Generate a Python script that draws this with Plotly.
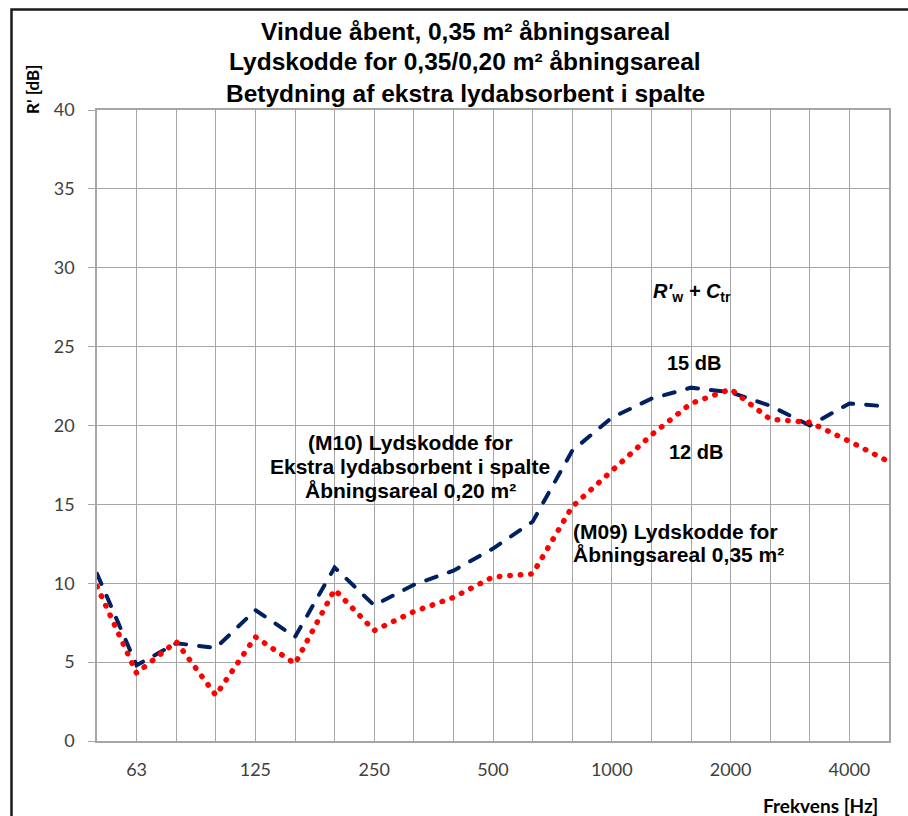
import plotly.graph_objects as go

categories = ["50", "63", "80", "100", "125", "160", "200", "250", "315", "400", "500",
              "630", "800", "1000", "1250", "1600", "2000", "2500", "3150", "4000", "5000"]
shown_ticks = ["63", "125", "250", "500", "1000", "2000", "4000"]
m10_values = [10.6, 4.8, 6.2, 5.9, 8.3, 6.6, 11.0, 8.6, 9.9, 10.8, 12.2, 13.9,
              18.4, 20.5, 21.7, 22.4, 22.1, 21.25, 20.0, 21.4, 21.2]
m09_values = [9.8, 4.3, 6.3, 2.9, 6.6, 4.9, 9.6, 7.0, 8.2, 9.1, 10.4, 10.6,
              14.85, 17.1, 19.4, 21.4, 22.3, 20.4, 20.2, 19.0, 17.7]
y_ticks = [0, 5, 10, 15, 20, 25, 30, 35, 40]

xi = list(range(len(categories)))
label_pos = [categories.index(c) for c in shown_ticks]

ARIAL = "Liberation Sans, Arial, sans-serif"
CAL = "Lato, Carlito, Calibri, sans-serif"
GRID = "#A6A6A6"

fig = go.Figure()
fig.add_trace(go.Scatter(x=xi, y=m10_values, mode="lines",
                         line=dict(color="#002060", width=4, dash="11px,13px"),
                         showlegend=False, hoverinfo="skip"))
fig.add_trace(go.Scatter(x=xi, y=m09_values, mode="lines",
                         line=dict(color="#FF0000", width=5.5, dash="0.5px,10px"),
                         showlegend=False, hoverinfo="skip"))

ann = []
def A(x, y, text, size=21, xref="x", yref="y", xanchor="center", font=ARIAL, angle=0, color="black"):
    ann.append(dict(x=x, y=y, xref=xref, yref=yref, text=text, showarrow=False,
                    xanchor=xanchor, yanchor="middle", textangle=angle,
                    font=dict(family=font, size=size, color=color)))

def px2x(px):
    return (px - 97) / 39.6
def py2y(py):
    return (741 - py) / 15.775
def ppx(px):
    return (px - 97) / 792
def ppy(py):
    return (741 - py) / 631

A(ppx(465), ppy(31), "<b>Vindue åbent, 0,35 m² åbningsareal</b>", size=24.5, xref="paper", yref="paper")
A(ppx(465), ppy(62), "<b>Lydskodde for 0,35/0,20 m² åbningsareal</b>", size=24.5, xref="paper", yref="paper")
A(ppx(465), ppy(93), "<b>Betydning af ekstra lydabsorbent i spalte</b>", size=24.5, xref="paper", yref="paper")

A(px2x(410), py2y(442), "<b>(M10) Lydskodde for</b>")
A(px2x(410), py2y(466), "<b>Ekstra lydabsorbent i spalte</b>")
A(px2x(410), py2y(490), "<b>Åbningsareal 0,20 m²</b>")
A(px2x(571), py2y(531), "<b>(M09) Lydskodde for</b>", xanchor="left")
A(px2x(571), py2y(554), "<b>Åbningsareal 0,35 m²</b>", xanchor="left")
A(px2x(692), py2y(292), "<b><i>R'</i><sub>w</sub><i> + C</i><sub>tr</sub></b>", size=20)
A(px2x(694), py2y(363), "<b>15 dB</b>", size=20)
A(px2x(696), py2y(452), "<b>12 dB</b>", size=20)

A(ppx(32), ppy(90), "<b>R' [dB]</b>", size=17, xref="paper", yref="paper", font=CAL, angle=-90)
A(ppx(820), ppy(805), "<b>Frekvens [Hz]</b>", size=19, xref="paper", yref="paper", font=CAL)

fig.update_layout(
    width=908, height=816,
    margin=dict(l=97, r=19, t=110, b=75),
    paper_bgcolor="white", plot_bgcolor="white",
    annotations=ann,
    shapes=[dict(type="rect", xref="paper", yref="paper",
                 x0=ppx(11.5), y0=-0.5, x1=1.5, y1=ppy(9.5),
                 line=dict(color="#1a1a1a", width=2.5), fillcolor="rgba(0,0,0,0)", layer="above")],
    xaxis=dict(range=[0, 20], tickmode="array", tickvals=label_pos, ticktext=shown_ticks,
               showgrid=True, gridcolor=GRID, gridwidth=1, ticks="",
               minor=dict(tickmode="linear", tick0=0, dtick=1, showgrid=True,
                          gridcolor=GRID, gridwidth=1, ticks=""),
               showline=True, linecolor=GRID, linewidth=1.5, mirror=True, zeroline=False,
               tickfont=dict(family=CAL, size=18, color="#404040"), ticklabelstandoff=12),
    yaxis=dict(range=[0, 40], tickmode="array", tickvals=y_ticks,
               showgrid=True, gridcolor=GRID, gridwidth=1, ticks="outside", ticklen=7,
               tickcolor=GRID, showline=True, linecolor=GRID, linewidth=1.5, mirror=True,
               zeroline=False, tickfont=dict(family=CAL, size=18, color="#404040"),
               ticklabelstandoff=10),
)

post = """
document.body.style.margin='0';
document.body.style.padding='0';
var s=document.createElement('style');
s.innerHTML='body{margin:0 !important;} .scatterlayer path.js-line{stroke-linecap:round;}';
document.head.appendChild(s);
"""
fig.write_html("out.html", post_script=post, config={"displayModeBar": False})
